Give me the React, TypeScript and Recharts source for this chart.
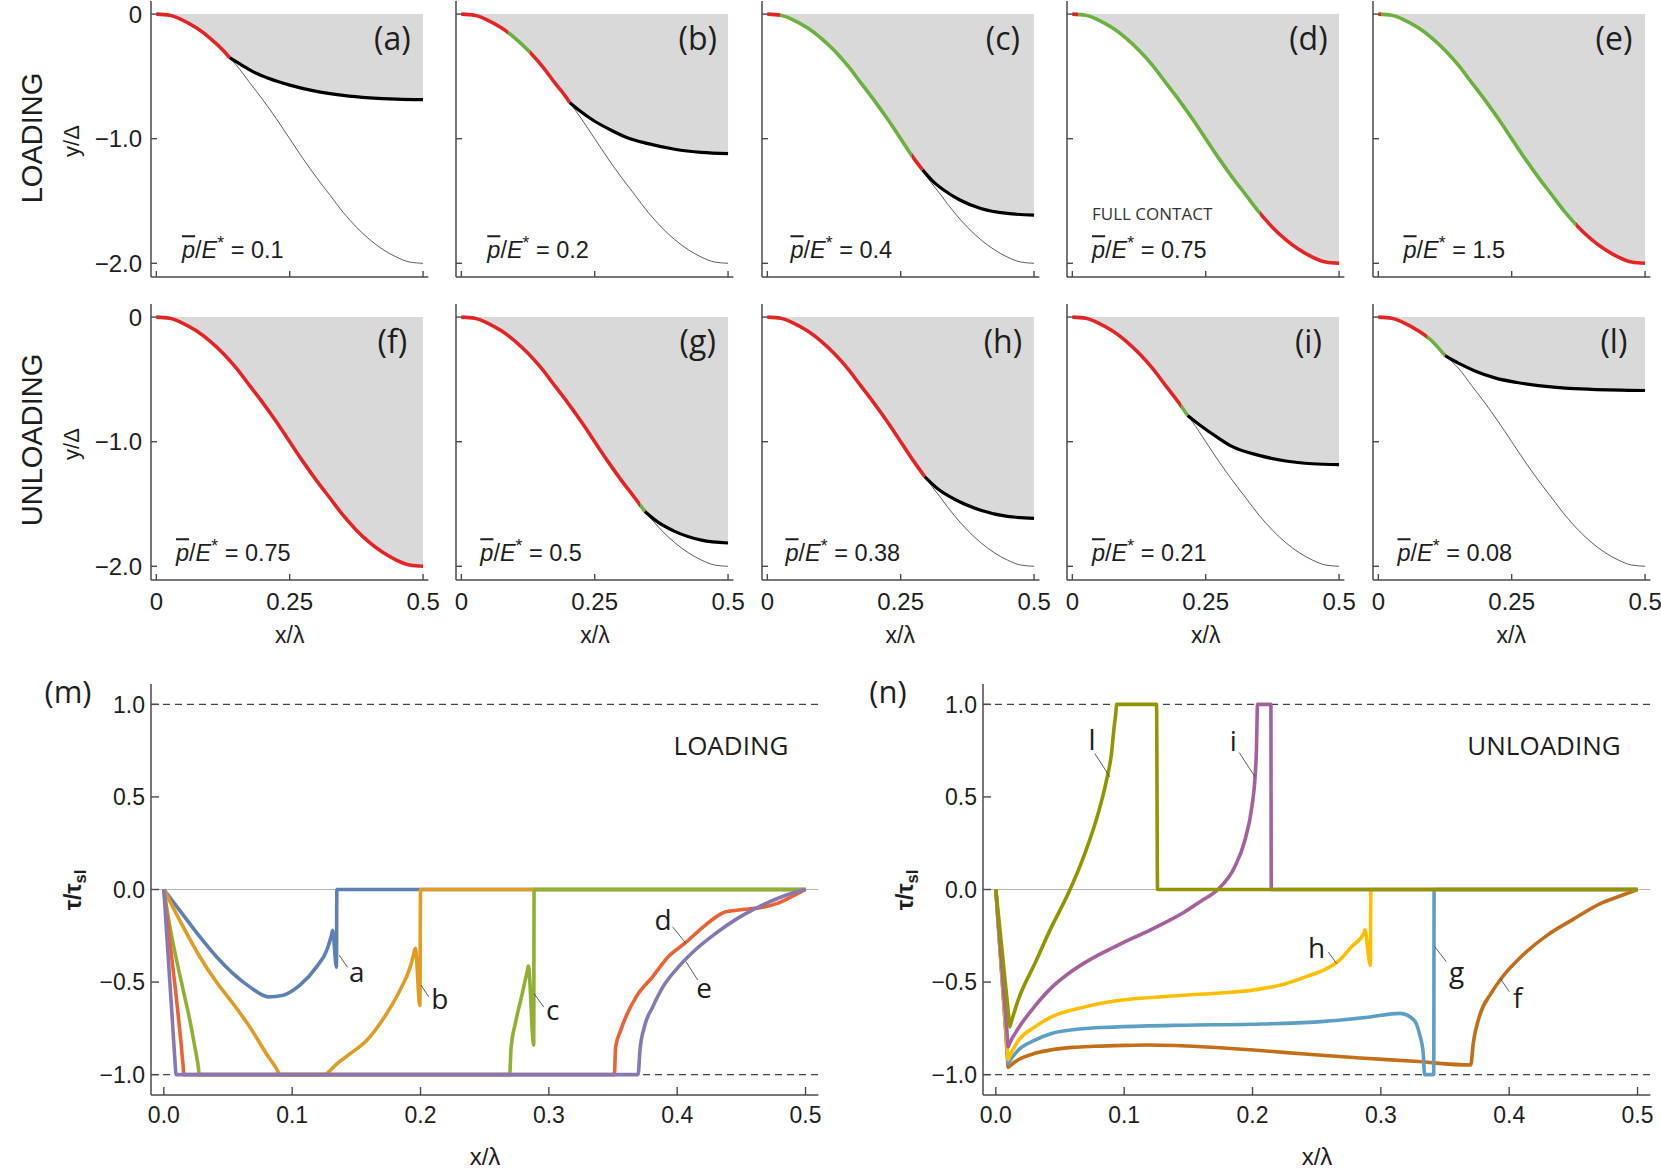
import React from 'react';
import { ComposedChart, Line, Area, XAxis, YAxis, ReferenceLine, ReferenceDot } from 'recharts';

type Pt = [number, number];

// undeformed wavy surface, y/Δ against x/λ
const PROFILE_X = [0, 0.025, 0.05, 0.075, 0.1, 0.125, 0.15, 0.175, 0.2, 0.225, 0.25, 0.275, 0.3, 0.325, 0.35, 0.375, 0.4, 0.425, 0.45, 0.475, 0.5];
const PROFILE_Y = [0, -0.01, -0.05, -0.11, -0.19, -0.29, -0.41, -0.55, -0.69, -0.84, -1, -1.16, -1.31, -1.45, -1.59, -1.71, -1.81, -1.89, -1.95, -1.99, -2];

// panels (a)-(e) loading, (f)-(l) unloading
const PANEL_IDS = ['a', 'b', 'c', 'd', 'e', 'f', 'g', 'h', 'i', 'l'];
const LOAD_VALUES = ['0.1', '0.2', '0.4', '0.75', '1.5', '0.75', '0.5', '0.38', '0.21', '0.08'];
// end of the contact zone
const EDGE_X = [0.1375, 0.203, 0.291, 0.5, 0.5, 0.5, 0.344, 0.295, 0.216, 0.125];
const EDGE_Y = [-0.35, -0.71, -1.25, -2, -2, -2, -1.56, -1.28, -0.79, -0.31];
// green stretches inside the contact
const SLIP_ZONES: number[][][] = [[], [[0.0875, 0.129]], [[0.024, 0.272]], [[0.011, 0.352]], [[0.005, 0.371]], [], [[0.334, 0.344]], [], [[0.203, 0.216]], [[0.091, 0.125]]];

// deformed free surface beyond the contact edge
const FREE_A: Pt[] = [[0.16, -0.41], [0.18, -0.46], [0.21, -0.515], [0.25, -0.57], [0.3, -0.62], [0.35, -0.652], [0.4, -0.672], [0.45, -0.683], [0.5, -0.687]];
const FREE_B: Pt[] = [[0.22, -0.77], [0.25, -0.86], [0.28, -0.93], [0.31, -0.99], [0.35, -1.04], [0.4, -1.085], [0.45, -1.11], [0.5, -1.12]];
const FREE_C: Pt[] = [[0.31, -1.34], [0.33, -1.41], [0.36, -1.49], [0.4, -1.56], [0.45, -1.6], [0.5, -1.613]];
const FREE_G: Pt[] = [[0.37, -1.65], [0.4, -1.72], [0.45, -1.79], [0.5, -1.813]];
const FREE_H: Pt[] = [[0.32, -1.38], [0.35, -1.46], [0.4, -1.55], [0.45, -1.6], [0.5, -1.615]];
const FREE_I: Pt[] = [[0.24, -0.87], [0.27, -0.96], [0.3, -1.04], [0.35, -1.11], [0.4, -1.155], [0.45, -1.177], [0.5, -1.184]];
const FREE_L: Pt[] = [[0.15, -0.37], [0.18, -0.43], [0.22, -0.49], [0.26, -0.525], [0.3, -0.55], [0.35, -0.57], [0.4, -0.58], [0.5, -0.589]];
const FREE = [FREE_A, FREE_B, FREE_C, [], [], [], FREE_G, FREE_H, FREE_I, FREE_L];

// shear traction τ/τsl, loading
const TAU_A: Pt[] = [[0, 0], [0.015, -0.137], [0.028, -0.255], [0.041, -0.363], [0.054, -0.454], [0.067, -0.526], [0.0815, -0.58], [0.093, -0.571], [0.106, -0.517], [0.119, -0.418], [0.127, -0.327], [0.1305, -0.25], [0.1315, -0.22], [0.1345, -0.42], [0.1348, 0], [0.5, 0]];
const TAU_B: Pt[] = [[0, 0], [0.015, -0.2], [0.028, -0.363], [0.041, -0.5], [0.054, -0.617], [0.067, -0.743], [0.08, -0.888], [0.088, -0.97], [0.0906, -1], [0.1262, -1], [0.128, -0.988], [0.1348, -0.942], [0.145, -0.888], [0.158, -0.816], [0.171, -0.698], [0.184, -0.544], [0.192, -0.418], [0.1945, -0.355], [0.196, -0.318], [0.1995, -0.626], [0.2, 0], [0.5, 0]];
const TAU_C: Pt[] = [[0, 0], [0.0047, -0.2], [0.0099, -0.38], [0.0151, -0.544], [0.0203, -0.707], [0.0242, -0.852], [0.0268, -0.955], [0.0276, -1], [0.2695, -1], [0.2705, -0.86], [0.274, -0.72], [0.279, -0.57], [0.2832, -0.44], [0.284, -0.414], [0.2882, -0.84], [0.2885, 0], [0.5, 0]];
const TAU_D: Pt[] = [[0, 0], [0.005, -0.3], [0.01, -0.6], [0.013, -0.8], [0.015, -0.95], [0.0156, -1], [0.351, -1], [0.352, -0.85], [0.356, -0.76], [0.36, -0.687], [0.368, -0.58], [0.381, -0.47], [0.393, -0.363], [0.406, -0.29], [0.422, -0.192], [0.434, -0.132], [0.437, -0.122], [0.44, -0.118], [0.451, -0.108], [0.468, -0.094], [0.478, -0.075], [0.488, -0.043], [0.5, 0]];
const TAU_E: Pt[] = [[0, 0], [0.009, -0.96], [0.0094, -1], [0.3695, -1], [0.371, -0.867], [0.3745, -0.74], [0.381, -0.633], [0.389, -0.525], [0.4, -0.426], [0.414, -0.327], [0.43, -0.237], [0.447, -0.156], [0.4635, -0.094], [0.48, -0.043], [0.4925, -0.013], [0.5, 0]];

// shear traction τ/τsl, unloading
const TAU_F: Pt[] = [[0, 0], [0.009, -0.9], [0.0096, -0.96], [0.0105, -0.955], [0.0174, -0.92], [0.0304, -0.885], [0.0434, -0.866], [0.06, -0.853], [0.0768, -0.847], [0.1, -0.842], [0.118, -0.84], [0.14, -0.843], [0.16, -0.849], [0.201, -0.867], [0.243, -0.89], [0.284, -0.91], [0.326, -0.928], [0.37, -0.948], [0.372, -0.83], [0.377, -0.68], [0.386, -0.56], [0.395, -0.47], [0.409, -0.365], [0.43, -0.245], [0.45, -0.16], [0.471, -0.076], [0.488, -0.031], [0.5, 0]];
const TAU_G: Pt[] = [[0, 0], [0.009, -0.885], [0.0096, -0.94], [0.0105, -0.93], [0.0174, -0.868], [0.0304, -0.814], [0.0434, -0.778], [0.0694, -0.751], [0.0953, -0.742], [0.147, -0.733], [0.199, -0.728], [0.251, -0.715], [0.29, -0.69], [0.315, -0.669], [0.3257, -0.705], [0.33, -0.777], [0.333, -0.885], [0.3336, -0.96], [0.334, -1], [0.3412, -1], [0.3415, 0], [0.5, 0]];
const TAU_H: Pt[] = [[0, 0], [0.009, -0.865], [0.0096, -0.92], [0.0105, -0.905], [0.0174, -0.818], [0.0304, -0.742], [0.0434, -0.688], [0.0694, -0.634], [0.0953, -0.6], [0.118, -0.585], [0.147, -0.571], [0.175, -0.559], [0.199, -0.545], [0.225, -0.51], [0.243, -0.468], [0.257, -0.43], [0.268, -0.38], [0.277, -0.31], [0.2868, -0.235], [0.2875, -0.218], [0.2918, -0.41], [0.2922, 0], [0.5, 0]];
const TAU_I: Pt[] = [[0, 0], [0.009, -0.8], [0.0096, -0.85], [0.0105, -0.835], [0.0174, -0.751], [0.0304, -0.63], [0.0434, -0.53], [0.0564, -0.455], [0.0694, -0.395], [0.0823, -0.345], [0.0953, -0.3], [0.1213, -0.215], [0.1473, -0.12], [0.16, -0.062], [0.173, 0], [0.186, 0.12], [0.194, 0.265], [0.1995, 0.447], [0.202, 0.61], [0.2031, 0.77], [0.2036, 0.94], [0.2039, 1], [0.2143, 1], [0.2146, 0], [0.5, 0]];
const TAU_L: Pt[] = [[0, 0], [0.0102, -0.695], [0.0109, -0.742], [0.0113, -0.733], [0.0174, -0.598], [0.0304, -0.4], [0.0434, -0.202], [0.0564, -0.022], [0.0694, 0.195], [0.0797, 0.41], [0.0862, 0.59], [0.0901, 0.735], [0.0922, 0.88], [0.0937, 0.97], [0.094, 1], [0.1252, 1], [0.126, 0], [0.5, 0]];

const LOAD_CURVES = [TAU_A, TAU_B, TAU_C, TAU_D, TAU_E];
const LOAD_COLORS = ['#5e81b5', '#e19c24', '#8fb032', '#eb6235', '#8778b3'];
const UNLOAD_CURVES = [TAU_F, TAU_G, TAU_H, TAU_I, TAU_L];
const UNLOAD_COLORS = ['#c56e1a', '#5d9ec7', '#ffbf00', '#a5609d', '#929500'];

// curve tags: letter, text position, leader line
const LOAD_TAGS = ['a', 'b', 'c', 'd', 'e'];
const LOAD_TAG_POS: Pt[] = [[0.1504, -0.445], [0.215, -0.59], [0.303, -0.651], [0.389, -0.165], [0.421, -0.534]];
const LOAD_LEADERS: Pt[][] = [[[0.1366, -0.354], [0.1432, -0.421]], [[0.2004, -0.517], [0.2064, -0.58]], [[0.2884, -0.562], [0.296, -0.635]], [[0.3964, -0.201], [0.4064, -0.288]], [[0.4068, -0.39], [0.416, -0.489]]];
const UNLOAD_TAGS = ['f', 'g', 'h', 'i', 'l'];
const UNLOAD_TAG_POS: Pt[] = [[0.4066, -0.588], [0.359, -0.444], [0.25, -0.315], [0.185, 0.8], [0.075, 0.807]];
const UNLOAD_LEADERS: Pt[][] = [[[0.393, -0.48], [0.4, -0.552]], [[0.342, -0.309], [0.351, -0.39]], [[0.259, -0.337], [0.2655, -0.4]], [[0.1896, 0.74], [0.2018, 0.61]], [[0.0771, 0.735], [0.0888, 0.609]]];

const ROW_X_TICKS = [0, 0.25, 0.5];
const ROW_Y_TICKS = [-2, -1, 0];
const TAU_X_TICKS = [0, 0.1, 0.2, 0.3, 0.4, 0.5];
const TAU_Y_TICKS = [-1, -0.5, 0, 0.5, 1];

// layout
const X_DOM: [number, number] = [-0.01, 0.51];
const ROW_Y_DOM: [number, number] = [-2.11, 0.105];
const TAU_Y_DOM: [number, number] = [-1.11, 1.11];
const ROW_TOP = [1.2, 304];
const COL_LEFT = [151, 456.3, 761.5, 1067, 1372.5];
const SP_W = 277.4;
const SP_H = 276;
const LOAD_TXT_DX = [31, 31, 29, 25, 31, 25, 24, 24, 25, 25];
const TAU_LEFT = [151.2, 983.2];
const TAU_TOP = 684;
const TP_W = 667.4;
const TP_H = 411;

const RED = '#e42526';
const GREEN = '#6bb13d';
const FILL = '#d9d9d9';
const FRAME = '#4a4a4a';
const INK = '#1e1e1e';
const SANS = "'Liberation Sans', Arial, sans-serif";
const OPEN = "'Open Sans', sans-serif";

const minus = (v: number) => (v < 0 ? '\u2212' : '');
const fmtRowY = (v: number) => (v === 0 ? '0' : minus(v) + Math.abs(v).toFixed(1));
const fmtRowX = (v: number) => (v === 0 ? '0' : String(v));
const fmtTau = (v: number) => minus(v) + Math.abs(v).toFixed(1);
const toXY = (p: Pt) => ({ x: p[0], y: p[1] });

type Side = 'bottom' | 'top' | 'left' | 'right';
type TickText = { fmt: (v: number) => string; size: number; off: number };

// inward frame tick, plus its number on labelled sides
function makeTick(side: Side, len: number, text?: TickText) {
  return (p: any) => {
    const x = Number(p.x);
    const y = Number(p.y);
    const v = p.payload?.value as number;
    let seg: [number, number, number, number];
    if (side === 'bottom') seg = [x, y, x, y - len];
    else if (side === 'top') seg = [x, y, x, y + len];
    else if (side === 'left') seg = [x, y, x + len, y];
    else seg = [x, y, x - len, y];
    let label: React.ReactNode = null;
    if (text) {
      const common = { fontFamily: SANS, fontSize: text.size, fill: INK };
      label =
        side === 'bottom' ? (
          <text x={x} y={y + text.off} textAnchor="middle" {...common}>{text.fmt(v)}</text>
        ) : (
          <text x={x - text.off} y={y + text.size * 0.355} textAnchor="end" {...common}>{text.fmt(v)}</text>
        );
    }
    return (
      <g>
        <line x1={seg[0]} y1={seg[1]} x2={seg[2]} y2={seg[3]} stroke={FRAME} strokeWidth={1.4} />
        {label}
      </g>
    );
  };
}

function Txt(props: { x: number; y: number; size: number; font?: string; rot?: boolean; start?: boolean; weight?: number; color?: string; children: React.ReactNode }) {
  const { x, y, size, font = SANS, rot, start, weight = 400, color = INK, children } = props;
  return (
    <div
      style={{
        position: 'absolute',
        left: x,
        top: y,
        transform: `translate(${start ? '0' : '-50%'},-50%)${rot ? ' rotate(-90deg)' : ''}`,
        fontFamily: font,
        fontSize: size,
        fontWeight: weight,
        color,
        lineHeight: 1,
        whiteSpace: 'nowrap',
      }}
    >
      {children}
    </div>
  );
}

function frameAxes(o: { xTicks: number[]; yTicks: number[]; yDom: [number, number]; xText?: TickText; yText?: TickText; yWidth: number; len: number; xHeight: number }) {
  const line = { stroke: FRAME, strokeWidth: 1.5 };
  const common = { tickSize: 0, tickMargin: 0, tickLine: false, axisLine: line, interval: 0 as const, allowDataOverflow: true };
  return [
    <XAxis key="xb" xAxisId="b" type="number" dataKey="x" domain={X_DOM} ticks={o.xTicks} orientation="bottom" height={o.xHeight} tick={makeTick('bottom', o.len, o.xText)} {...common} />,
    <XAxis key="xt" xAxisId="t" type="number" dataKey="x" domain={X_DOM} ticks={o.xTicks} orientation="top" height={0} tick={makeTick('top', o.len)} {...common} />,
    <YAxis key="yl" yAxisId="l" type="number" domain={o.yDom} ticks={o.yTicks} orientation="left" width={o.yWidth} tick={makeTick('left', o.len, o.yText)} {...common} />,
    <YAxis key="yr" yAxisId="r" type="number" domain={o.yDom} ticks={o.yTicks} orientation="right" width={0} tick={makeTick('right', o.len)} {...common} />,
  ];
}

function SurfacePanel({ idx }: { idx: number }) {
  const row = idx < 5 ? 0 : 1;
  const col = idx % 5;
  const ex = EDGE_X[idx];
  const edge: Pt = [ex, EDGE_Y[idx]];
  const profile: Pt[] = PROFILE_X.map((x, i) => [x, PROFILE_Y[i]]);
  const contact: Pt[] = [...profile.filter((p) => p[0] < ex - 1e-9), edge];
  const rest: Pt[] = [edge, ...profile.filter((p) => p[0] > ex + 1e-9)];
  const free: Pt[] = [edge, ...FREE[idx]];
  const band = [...contact, ...FREE[idx]].map((p) => ({ x: p[0], band: [p[1], 0] }));

  const stops: { o: number; c: string }[] = [{ o: 0, c: RED }];
  SLIP_ZONES[idx].forEach(([s, e]) => {
    stops.push({ o: s / ex, c: RED }, { o: s / ex, c: GREEN }, { o: e / ex, c: GREEN }, { o: e / ex, c: RED });
  });
  stops.push({ o: 1, c: RED });

  const yW = col === 0 ? 68 : 10;
  const left = COL_LEFT[col];
  const top = ROW_TOP[row];
  const gid = `contact-${PANEL_IDS[idx]}`;

  return (
    <div style={{ position: 'absolute', left: left - 2 - yW, top: top - 2 }}>
      <ComposedChart width={2 + yW + SP_W + 22} height={2 + SP_H + 44} margin={{ top: 2, right: 22, bottom: 0, left: 2 }}>
        <defs>
          <linearGradient id={gid} x1="0" y1="0" x2="1" y2="0">
            {stops.map((s, i) => (
              <stop key={i} offset={s.o} stopColor={s.c} />
            ))}
          </linearGradient>
        </defs>
        {frameAxes({
          xTicks: ROW_X_TICKS,
          yTicks: ROW_Y_TICKS,
          yDom: ROW_Y_DOM,
          xText: row === 1 ? { fmt: fmtRowX, size: 24, off: 30 } : undefined,
          yText: col === 0 ? { fmt: fmtRowY, size: 24, off: 9 } : undefined,
          yWidth: yW,
          len: 6,
          xHeight: 44,
        })}
        <Area xAxisId="b" yAxisId="l" data={band} dataKey="band" type="monotone" fill={FILL} fillOpacity={1} stroke="none" isAnimationActive={false} />
        {rest.length > 1 && (
          <Line xAxisId="b" yAxisId="l" data={rest.map(toXY)} dataKey="y" type="monotone" stroke="#333" strokeWidth={0.8} dot={false} activeDot={false} isAnimationActive={false} />
        )}
        {free.length > 1 && (
          <Line xAxisId="b" yAxisId="l" data={free.map(toXY)} dataKey="y" type="monotone" stroke="#000" strokeWidth={3.2} dot={false} activeDot={false} isAnimationActive={false} />
        )}
        <Line xAxisId="b" yAxisId="l" data={contact.map(toXY)} dataKey="y" type="monotone" stroke={`url(#${gid})`} strokeWidth={3.6} dot={false} activeDot={false} isAnimationActive={false} />
      </ComposedChart>
    </div>
  );
}

function TauPanel({ unload }: { unload: boolean }) {
  const curves = unload ? UNLOAD_CURVES : LOAD_CURVES;
  const colors = unload ? UNLOAD_COLORS : LOAD_COLORS;
  const tags = unload ? UNLOAD_TAGS : LOAD_TAGS;
  const tagPos = unload ? UNLOAD_TAG_POS : LOAD_TAG_POS;
  const leaders = unload ? UNLOAD_LEADERS : LOAD_LEADERS;
  const left = TAU_LEFT[unload ? 1 : 0];
  const yW = 68;
  return (
    <div style={{ position: 'absolute', left: left - 2 - yW, top: TAU_TOP - 2 }}>
      <ComposedChart width={2 + yW + TP_W + 22} height={2 + TP_H + 50} margin={{ top: 2, right: 22, bottom: 0, left: 2 }}>
        {frameAxes({
          xTicks: TAU_X_TICKS,
          yTicks: TAU_Y_TICKS,
          yDom: TAU_Y_DOM,
          xText: { fmt: fmtTau, size: 23, off: 28 },
          yText: { fmt: fmtTau, size: 23, off: 6 },
          yWidth: yW,
          len: 8,
          xHeight: 50,
        })}
        <ReferenceLine xAxisId="b" yAxisId="l" y={0} stroke="#b5b5b5" strokeWidth={1.2} />
        <ReferenceLine xAxisId="b" yAxisId="l" y={1} stroke="#444" strokeWidth={1.2} strokeDasharray="7 5" />
        <ReferenceLine xAxisId="b" yAxisId="l" y={-1} stroke="#444" strokeWidth={1.2} strokeDasharray="7 5" />
        {curves.map((c, i) => (
          <Line key={i} xAxisId="b" yAxisId="l" data={c.map(toXY)} dataKey="y" type="monotoneX" stroke={colors[i]} strokeWidth={3.6} dot={false} activeDot={false} isAnimationActive={false} />
        ))}
        {leaders.map((s, i) => (
          <ReferenceLine key={`ld${i}`} xAxisId="b" yAxisId="l" segment={[toXY(s[0]), toXY(s[1])]} stroke="#333" strokeWidth={0.8} />
        ))}
        {tags.map((t, i) => (
          <ReferenceDot key={`tg${i}`} xAxisId="b" yAxisId="l" x={tagPos[i][0]} y={tagPos[i][1]} r={1} fill="none" stroke="none" label={{ value: t, position: 'center', fill: INK, fontSize: 28, fontFamily: OPEN }} />
        ))}
      </ComposedChart>
    </div>
  );
}

export default function App() {
  return (
    <div style={{ position: 'absolute', left: 0, top: 0, width: 1661, height: 1169, overflow: 'hidden', background: '#fff' }}>
      {PANEL_IDS.map((_, i) => (
        <SurfacePanel key={i} idx={i} />
      ))}
      <TauPanel unload={false} />
      <TauPanel unload={true} />

      <Txt x={32} y={138} size={29} rot>LOADING</Txt>
      <Txt x={32} y={440} size={29} rot>UNLOADING</Txt>
      {ROW_TOP.map((t, r) => (
        <Txt key={`ya${r}`} x={72} y={t + 140} size={22} rot>y/Δ</Txt>
      ))}
      {COL_LEFT.map((l, c) => (
        <Txt key={`xl${c}`} x={l + 138.7} y={635} size={23}>x/λ</Txt>
      ))}
      {PANEL_IDS.map((id, i) => (
        <Txt key={`pl${i}`} x={COL_LEFT[i % 5] + SP_W - 36} y={ROW_TOP[i < 5 ? 0 : 1] + 37} size={32} font={OPEN}>({id})</Txt>
      ))}
      {LOAD_VALUES.map((v, i) => (
        <Txt key={`lv${i}`} x={COL_LEFT[i % 5] + LOAD_TXT_DX[i]} y={ROW_TOP[i < 5 ? 0 : 1] + 249.5} size={23.5} start>
          <span style={{ fontStyle: 'italic', textDecoration: 'overline' }}>p</span>/<span style={{ fontStyle: 'italic' }}>E</span>
          <sup style={{ fontSize: '0.75em', lineHeight: 0 }}>*</sup> = {v}
        </Txt>
      ))}
      <Txt x={COL_LEFT[3] + 25} y={ROW_TOP[0] + 212} size={17} font={OPEN} start color="#333">FULL CONTACT</Txt>

      <Txt x={68} y={691} size={31} font={OPEN}>(m)</Txt>
      <Txt x={888} y={691} size={31} font={OPEN}>(n)</Txt>
      {TAU_LEFT.map((l, k) => (
        <Txt key={`tau${k}`} x={l - 78} y={890} size={23} rot weight={700}>
          τ/τ<sub style={{ fontSize: '0.72em', lineHeight: 0 }}>sl</sub>
        </Txt>
      ))}
      {TAU_LEFT.map((l, k) => (
        <Txt key={`tx${k}`} x={l + 333.8} y={1157} size={24}>x/λ</Txt>
      ))}
      <Txt x={731} y={745} size={26} font={OPEN}>LOADING</Txt>
      <Txt x={1544} y={745} size={26} font={OPEN}>UNLOADING</Txt>
    </div>
  );
}
